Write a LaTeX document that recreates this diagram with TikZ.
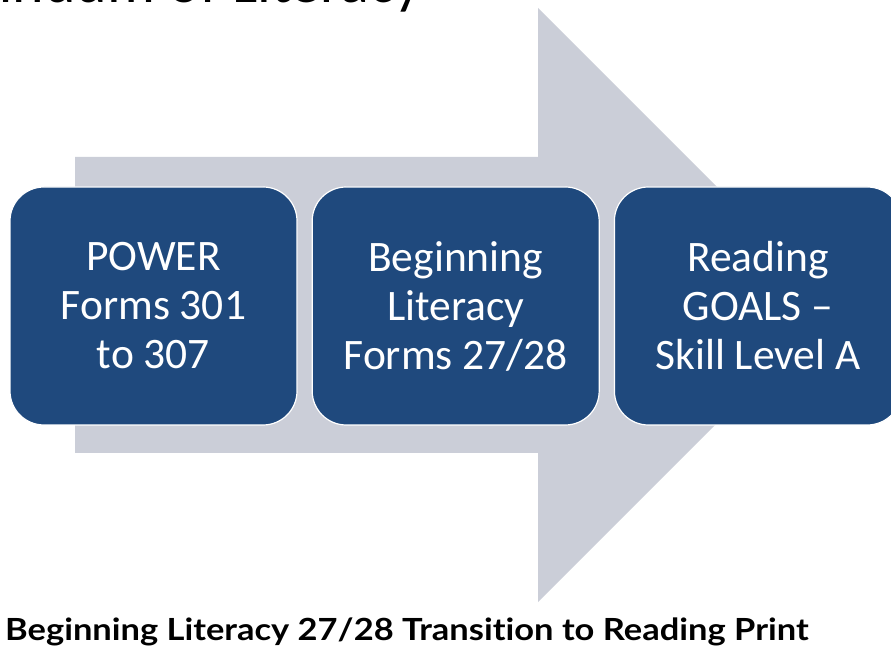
\documentclass[tikz,border=0pt]{standalone}
\usepackage{fontspec}
\setmainfont{Carlito}
\newfontfamily\capfont{Lato}[FakeStretch=1.13, Ligatures=NoCommon]
\usetikzlibrary{positioning}
\definecolor{boxblue}{HTML}{1F497D}
\definecolor{arrowgray}{HTML}{CBCED8}
\tikzset{
  stage/.style={draw=white, line width=1.2pt, fill=boxblue, rounded corners=34pt,
    minimum width=287pt, minimum height=238pt, align=center, text=white,
    font=\fontsize{43.5}{49}\selectfont, inner sep=0pt},
  caption/.style={font=\capfont\bfseries\fontsize{30.5}{34}\selectfont, anchor=base west, inner sep=0pt},
  heading/.style={font=\fontsize{60}{66}\selectfont, anchor=base east, inner sep=0pt}
}

\begin{document}
\begin{tikzpicture}[x=1pt,y=1pt]
\useasboundingbox (0,0) rectangle (891,648);
\clip (0,0) rectangle (891,648);
\node[heading] (title) at (422,645) {Continuum of Literacy};

\fill[arrowgray] (75,195) -- (75,491) -- (538,491) -- (538,640) -- (835,343)
  -- (538,46) -- (538,195) -- cycle;

\node[stage] (power) at (153.5,342) {POWER\\Forms 301\\to 307};
\node[stage, right=14pt of power] (begin) {Beginning\\Literacy\\Forms 27/28};
\node[stage, right=14pt of begin] (goals) {Reading\\GOALS --\\Skill Level A};

\node[caption] (cap) at (5,8) {Beginning Literacy 27/28 Transition to Reading Print};
\end{tikzpicture}
\end{document}
